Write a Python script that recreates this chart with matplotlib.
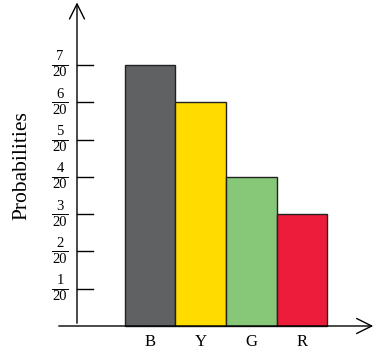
import numpy as np
import matplotlib.pyplot as plt

plt.rcParams['font.family'] = ['Liberation Serif', 'DejaVu Serif']

colours = ['B', 'Y', 'G', 'R']
probs = [7/20, 6/20, 4/20, 3/20]
bar_colors = ['#606163', '#FFDB00', '#86C878', '#EC1C3A']
tick_nums = [1, 2, 3, 4, 5, 6, 7]
denom = 20

fig = plt.figure(figsize=(3.78, 3.51), dpi=100)
ax = fig.add_axes([0, 0, 1, 1])
ax.axis('off')

# pixel mapping: x unit = 50.7px, B centre at 150px; y unit (1/20) = 37.3px, zero at 326px
xu, yu = 50.7, 37.3
ax.set_xlim(-150 / xu, (378 - 150) / xu)
ax.set_ylim(-(351 - 326) / yu / denom, 326 / yu / denom)

x = np.arange(len(colours))
ax.bar(x, probs, width=1.0, color=bar_colors, edgecolor='#222222', linewidth=1.0, zorder=2)

y0 = -(150 - 77) / xu  # y axis position
# axes with open arrows
ax.annotate('', xy=(y0, 8.75 / denom), xytext=(y0, 0),
            arrowprops=dict(arrowstyle='->,head_width=0.3,head_length=0.6', lw=1.0,
                            color='black', mutation_scale=18))
ax.annotate('', xy=((376 - 150) / xu, 0), xytext=((56 - 150) / xu, 0),
            arrowprops=dict(arrowstyle='->,head_width=0.3,head_length=0.6', lw=1.0,
                            color='black', mutation_scale=18), zorder=3)

for n in tick_nums:
    yv = n / denom
    ax.plot([y0, y0 + 16 / xu], [yv, yv], color='black', lw=1.0)
    xc = (60 - 150) / xu
    ax.plot([xc - 8 / xu, xc + 8 / xu], [yv, yv], color='black', lw=0.7)
    ax.text(xc, yv + 1.5 / yu / denom, str(n), ha='center', va='bottom', fontsize=10.5)
    ax.text(xc, yv - 1.5 / yu / denom, str(denom), ha='center', va='top', fontsize=10.5)

for xi, c in zip(x, colours):
    ax.text(xi, -8 / yu / denom, c, ha='center', va='top', fontsize=12)

ax.text((22 - 150) / xu, (326 - 166) / yu / denom, 'Probabilities', rotation=90,
        ha='center', va='center', fontsize=15.5)

fig.savefig('out.png', dpi=100)
